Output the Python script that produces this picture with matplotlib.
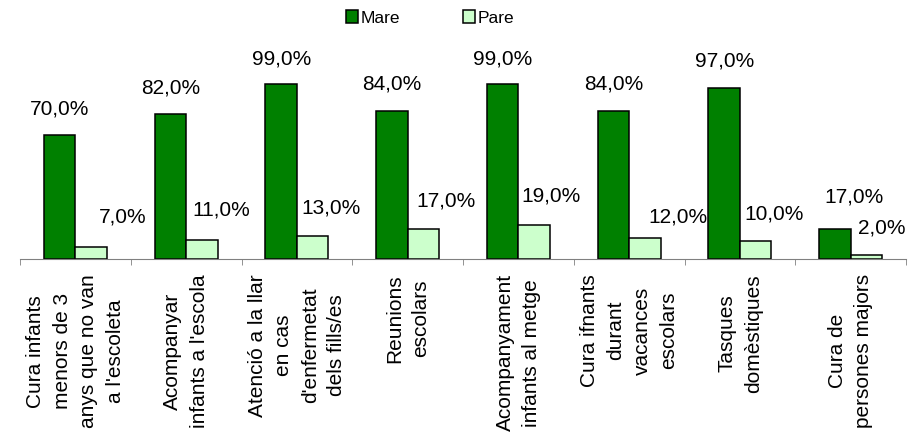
import numpy as np
import matplotlib
matplotlib.use("Agg")
import matplotlib.pyplot as plt

plt.rcParams['font.family'] = ['Liberation Sans', 'DejaVu Sans']

categories = [
    "Cura infants\nmenors de 3\nanys que no van\na l'escoleta",
    "Acompanyar\ninfants a l'escola",
    "Atenció a la llar\nen cas\nd'enfermetat\ndels fills/es",
    "Reunions\nescolars",
    "Acompanyament\ninfants al metge",
    "Cura ifnants\ndurant\nvacances\nescolars",
    "Tasques\ndomèstiques",
    "Cura de\npersones majors",
]
mare = [70, 82, 99, 84, 99, 84, 97, 17]
pare = [7, 11, 13, 17, 19, 12, 10, 2]

# label offsets in points (labels were nudged by hand in the original)
mare_dx = [0, 0, 0, 0, 0, 0, 0, 14]
mare_dy = [19, 19, 18, 19, 18, 19, 19, 23]
pare_dx = [23, 14, 13, 16, 12, 24, 13, 11]
pare_dy = [21, 21, 20, 20, 21, 15, 20, 20]

fig = plt.figure(figsize=(9.13, 4.36), dpi=100)
ax = fig.add_axes([20 / 913, 1 - 259 / 436, 886 / 913, 212 / 436])

x = np.arange(len(categories))
w = 0.284
b1 = ax.bar(x - w / 2, mare, w, color='#008000', edgecolor='black', linewidth=1.1, label='Mare')
b2 = ax.bar(x + w / 2, pare, w, color='#CCFFCC', edgecolor='black', linewidth=1.1, label='Pare')

for i, v in enumerate(mare):
    ax.annotate(f"{v:.1f}%".replace('.', ','), (x[i] - w / 2, v), xytext=(mare_dx[i], mare_dy[i]),
                textcoords='offset points', ha='center', va='center', fontsize=15)
for i, v in enumerate(pare):
    ax.annotate(f"{v:.1f}%".replace('.', ','), (x[i] + w / 2, v), xytext=(pare_dx[i], pare_dy[i]),
                textcoords='offset points', ha='center', va='center', fontsize=15)

ax.set_xlim(-0.5, len(categories) - 0.5)
ax.set_ylim(0, 120)
for s in ['top', 'right', 'left']:
    ax.spines[s].set_visible(False)
ax.spines['bottom'].set_color('#808080')
ax.set_yticks([])

ax.set_xticks(x)
ax.set_xticklabels(categories, rotation=90, ha='center', va='top',
                   multialignment='center', fontsize=15, linespacing=1.5)
ax.tick_params(axis='x', which='major', length=0, pad=11)
ax.set_xticks(np.arange(len(categories) + 1) - 0.5, minor=True)
ax.tick_params(axis='x', which='minor', length=4.5, color='#808080', direction='out')

fig.legend(handles=[b1, b2], loc='center', bbox_to_anchor=(430 / 913, 1 - 18 / 436),
           ncol=2, frameon=False, fontsize=12.5, handlelength=0.7, handleheight=0.7,
           handletextpad=0.15, columnspacing=3.6)

fig.savefig('out.png', dpi=100)
